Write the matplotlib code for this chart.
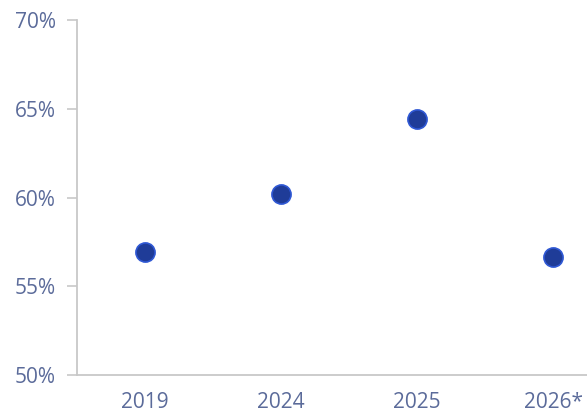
import matplotlib.pyplot as plt
from matplotlib.ticker import FuncFormatter

years = ["2019", "2024", "2025", "2026*"]
shares = [56.95, 60.2, 64.45, 56.65]
yticks = [50, 55, 60, 65, 70]

plt.rcParams['font.family'] = ['Open Sans', 'DejaVu Sans']
text_col = "#5b6b9a"
line_col = "#c8c8c8"

fig = plt.figure(figsize=(5.87, 4.17), dpi=100)
ax = fig.add_axes([0.131, 0.1007, 0.927, 0.851])

x = range(len(years))
ax.scatter(x, shares, s=190, color="#1f3c98", edgecolors="#2f58d4", linewidths=1.2, zorder=3)

ax.set_xlim(-0.5, 3.5)
ax.set_ylim(50, 70)
ax.set_yticks(yticks)
ax.yaxis.set_major_formatter(FuncFormatter(lambda v, p: f"{v:.0f}%"))
ax.set_xticks(list(x))
ax.set_xticklabels(years)

for s in ["top", "right"]:
    ax.spines[s].set_visible(False)
for s in ["left", "bottom"]:
    ax.spines[s].set_color(line_col)
    ax.spines[s].set_linewidth(1.3)

ax.tick_params(axis="y", length=7, width=1.2, color=line_col, labelcolor=text_col, labelsize=15, pad=8)
ax.tick_params(axis="x", length=0, labelcolor=text_col, labelsize=15, pad=12)

fig.savefig("out.png", dpi=100)
